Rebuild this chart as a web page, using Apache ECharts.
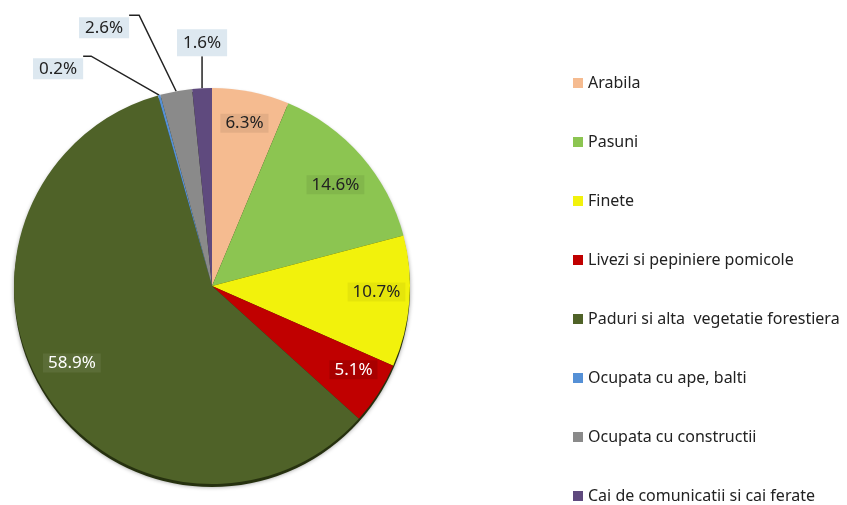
<!DOCTYPE html>
<html>
<head>
<meta charset="utf-8">
<script src="https://cdn.jsdelivr.net/npm/echarts@6/dist/echarts.min.js"></script>
<style>
  html, body { margin: 0; padding: 0; background: #fff; }
  #chart { width: 847px; height: 505px; }
</style>
</head>
<body>
<div id="chart"></div>
<script>
// land use categories, clockwise from 12 o'clock
const categories = [
  "Arabila",
  "Pasuni",
  "Finete",
  "Livezi si pepiniere pomicole",
  "Paduri si alta  vegetatie forestiera",
  "Ocupata cu ape, balti",
  "Ocupata cu constructii",
  "Cai de comunicatii si cai ferate"
];
// share of total surface, %
const shares = [6.3, 14.6, 10.7, 5.1, 58.9, 0.2, 2.6, 1.6];

const sliceColors = ["#f5bb90", "#8cc551", "#f2f20c", "#c00000", "#4f6228", "#5590d6", "#8a8a8a", "#5f4a7e"];
const insideTextColors = ["#222", "#222", "#222", "#fff", "#fff"];
const insideBoxColors = ["rgba(0,0,0,0.07)", "rgba(0,0,0,0.07)", "rgba(0,0,0,0.05)", "rgba(0,0,0,0.12)", "rgba(255,255,255,0.07)"];
// small nudges of the inside labels (px)
const insideNudge = [[0, -1], [-1, 7], [0, -7], [3, -6], [0, -10]];

// small slices get boxed labels outside, with leader lines (offsets from slice edge)
const outerLabels = {
  5: { elbow: [-68, -39], end: [-76, -39], align: "right", vAlign: "top", dy: 2, pad: [2, 6, 2, 6] },
  6: { elbow: [-37, -76], end: [-47, -76], align: "right", vAlign: "top", dy: 2, pad: [2, 6, 2, 6] },
  7: { elbow: [0, -32], end: [0, -32], align: "center", vAlign: "bottom", dy: 0, pad: [5, 6, 5, 6] }
};

const FONT = "'Noto Sans', 'Open Sans', sans-serif";
const center = [212, 286];
const radius = 198;

let myChart = echarts.init(document.getElementById("chart"));

const mainData = categories.map(function (name, i) {
  const item = {
    name: name,
    value: shares[i],
    itemStyle: { color: sliceColors[i] },
    label: { show: false },
    labelLine: { show: false }
  };
  if (outerLabels[i]) {
    item.label = {
      show: true,
      position: "outside",
      color: "#222",
      fontSize: 17,
      fontFamily: FONT,
      backgroundColor: "#dde8f0",
      padding: outerLabels[i].pad
    };
    item.labelLine = { show: true, length: 20, length2: 10, lineStyle: { color: "#222", width: 1.5 } };
  }
  return item;
});

const labelData = categories.map(function (name, i) {
  return {
    name: name,
    value: shares[i],
    label: outerLabels[i] || i > 4 ? { show: false } : {
      show: true,
      color: insideTextColors[i],
      backgroundColor: insideBoxColors[i],
      padding: [1, 5, 1, 5]
    }
  };
});

let option = {
  animation: false,
  backgroundColor: "#fff",
  legend: {
    data: categories,
    orient: "vertical",
    left: 573,
    top: 75,
    padding: 0,
    icon: "rect",
    itemWidth: 10,
    itemHeight: 10,
    itemGap: 43,
    selectedMode: false,
    textStyle: { fontFamily: FONT, fontSize: 16, color: "#222", lineHeight: 16 }
  },
  series: [
    {
      // dark rim under the pie
      type: "pie",
      silent: true,
      center: [center[0], center[1] + 3],
      radius: radius,
      label: { show: false },
      labelLine: { show: false },
      itemStyle: { color: "#26310f", shadowBlur: 4, shadowColor: "rgba(0,0,0,0.4)" },
      data: [{ name: "_rim", value: 1 }]
    },
    {
      type: "pie",
      center: center,
      radius: radius,
      startAngle: 90,
      clockwise: true,
      avoidLabelOverlap: false,
      itemStyle: { borderWidth: 0 },
      data: mainData,
      label: {
        formatter: function (p) { return p.value.toFixed(1) + "%"; }
      },
      labelLayout: function (params) {
        const cfg = outerLabels[params.dataIndex];
        if (!cfg || !params.labelLinePoints) return {};
        const p0 = params.labelLinePoints[0];
        const elbow = [p0[0] + cfg.elbow[0], p0[1] + cfg.elbow[1]];
        const end = [p0[0] + cfg.end[0], p0[1] + cfg.end[1]];
        return {
          x: end[0],
          y: end[1] + cfg.dy,
          align: cfg.align,
          verticalAlign: cfg.vAlign,
          labelLinePoints: [p0, elbow, end]
        };
      }
    },
    {
      // transparent ring carrying the inside labels
      type: "pie",
      silent: true,
      center: center,
      radius: [126, radius],
      startAngle: 90,
      clockwise: true,
      avoidLabelOverlap: false,
      itemStyle: { color: "rgba(0,0,0,0)" },
      label: {
        position: "inside",
        fontSize: 17,
        fontFamily: FONT,
        formatter: function (p) { return p.value.toFixed(1) + "%"; }
      },
      labelLine: { show: false },
      labelLayout: function (params) {
        const n = insideNudge[params.dataIndex];
        return n ? { dx: n[0], dy: n[1] } : {};
      },
      data: labelData
    }
  ]
};

myChart.setOption(option);
window.addEventListener("resize", function () {
  myChart.resize();
});
</script>
</body>
</html>
